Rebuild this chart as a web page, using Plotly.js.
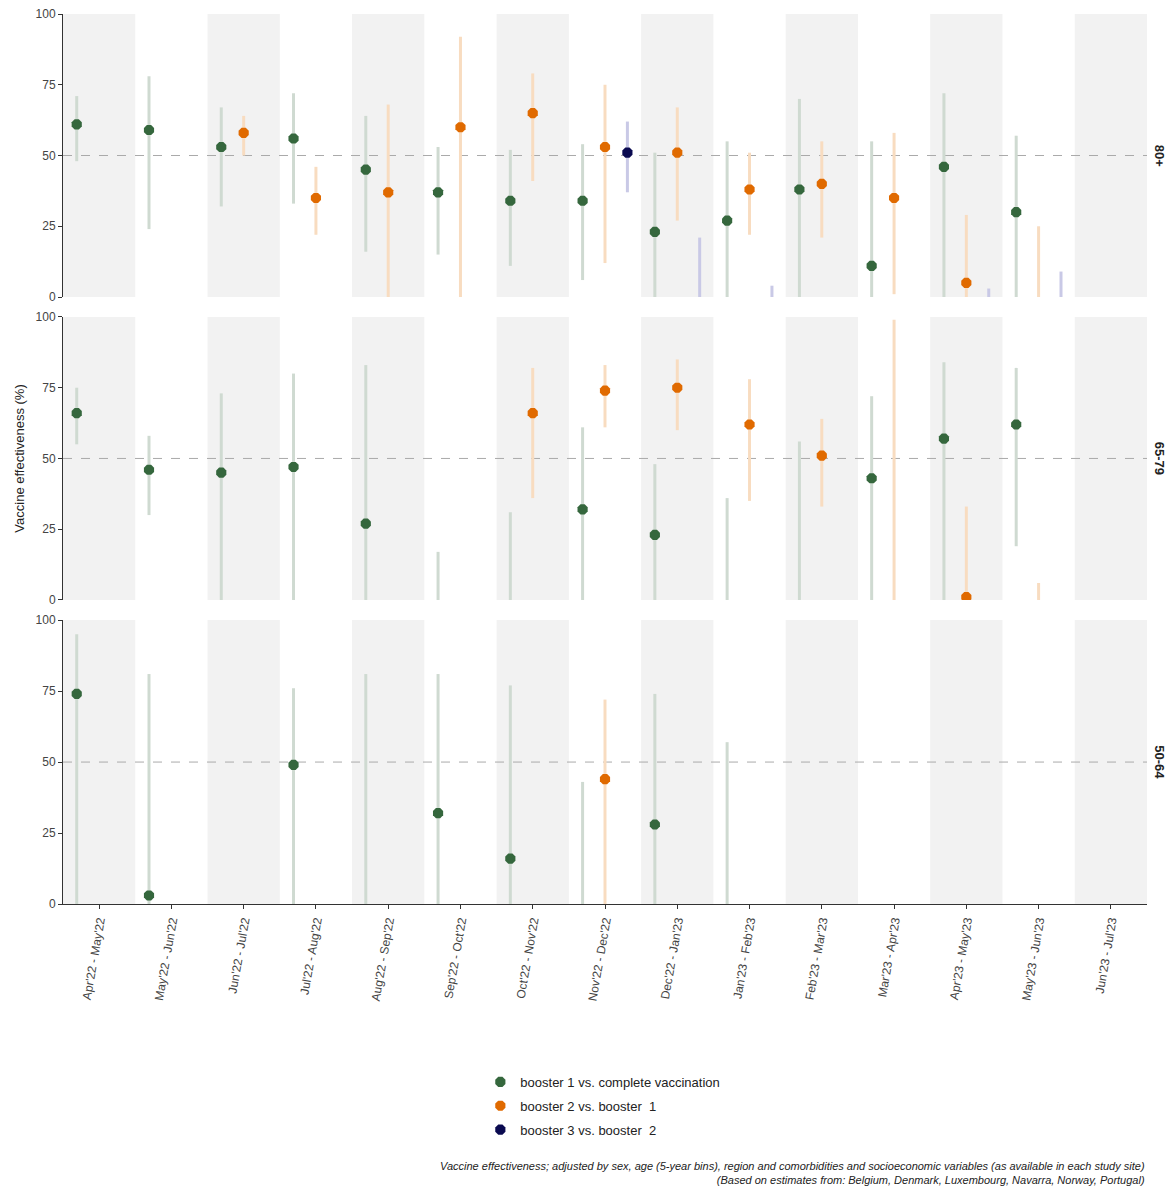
<!DOCTYPE html>
<html>
<head>
<meta charset="utf-8">
<script src="https://cdn.plot.ly/plotly-3.0.1.min.js"></script>
<style>body{margin:0;background:#fff}#chart{width:1176px;height:1190px}</style>
</head>
<body>
<div id="chart"></div>
<script>
// periodos (categorias do eixo x)
const periods = ["Apr'22 - May'22","May'22 - Jun'22","Jun'22 - Jul'22","Jul'22 - Aug'22","Aug'22 - Sep'22",
  "Sep'22 - Oct'22","Oct'22 - Nov'22","Nov'22 - Dec'22","Dec'22 - Jan'23","Jan'23 - Feb'23",
  "Feb'23 - Mar'23","Mar'23 - Apr'23","Apr'23 - May'23","May'23 - Jun'23","Jun'23 - Jul'23"];
const N = null;

// 80+
const ve80_b1 = [61,59,53,56,45,37,34,34,23,27,38,11,46,30,N];
const lo80_b1 = [48,24,32,33,16,15,11,6,0,0,0,0,0,0,N];
const hi80_b1 = [71,78,67,72,64,53,52,54,51,55,70,55,72,57,N];
const ve80_b2 = [N,N,58,35,37,60,65,53,51,38,40,35,5,N,N];
const lo80_b2 = [N,N,50,22,0,0,41,12,27,22,21,1,0,0,N];
const hi80_b2 = [N,N,64,46,68,92,79,75,67,51,55,58,29,25,N];
const ve80_b3 = [N,N,N,N,N,N,N,51,N,N,N,N,N,N,N];
const lo80_b3 = [N,N,N,N,N,N,N,37,0,0,N,N,0,0,N];
const hi80_b3 = [N,N,N,N,N,N,N,62,21,4,N,N,3,9,N];

// 65-79
const ve65_b1 = [66,46,45,47,27,N,N,32,23,N,N,43,57,62,N];
const lo65_b1 = [55,30,0,0,0,0,0,0,0,0,0,0,0,19,N];
const hi65_b1 = [75,58,73,80,83,17,31,61,48,36,56,72,84,82,N];
const ve65_b2 = [N,N,N,N,N,N,66,74,75,62,51,N,1,N,N];
const lo65_b2 = [N,N,N,N,N,N,36,61,60,35,33,0,0,0,N];
const hi65_b2 = [N,N,N,N,N,N,82,83,85,78,64,99,33,6,N];

// 50-64
const ve50_b1 = [74,3,N,49,N,32,16,N,28,N,N,N,N,N,N];
const lo50_b1 = [0,0,N,0,0,0,0,0,0,0,N,N,N,N,N];
const hi50_b1 = [95,81,N,76,81,81,77,43,74,57,N,N,N,N,N];
const ve50_b2 = [N,N,N,N,N,N,N,44,N,N,N,N,N,N,N];
const lo50_b2 = [N,N,N,N,N,N,N,0,N,N,N,N,N,N,N];
const hi50_b2 = [N,N,N,N,N,N,N,72,N,N,N,N,N,N,N];

const series = [
  {name: "booster 1 vs. complete vaccination", off: -0.31, dark: "#35673d", light: "#cfdad1"},
  {name: "booster 2 vs. booster  1", off: 0, dark: "#e06a00", light: "#f8dcc0"},
  {name: "booster 3 vs. booster  2", off: 0.31, dark: "#0a0a50", light: "#c9c9e6"},
];

const panels = [
  {y: "y", label: "80+", data: [[ve80_b1, lo80_b1, hi80_b1], [ve80_b2, lo80_b2, hi80_b2], [ve80_b3, lo80_b3, hi80_b3]]},
  {y: "y2", label: "65-79", data: [[ve65_b1, lo65_b1, hi65_b1], [ve65_b2, lo65_b2, hi65_b2]]},
  {y: "y3", label: "50-64", data: [[ve50_b1, lo50_b1, hi50_b1], [ve50_b2, lo50_b2, hi50_b2]]},
];

const traces = [];
panels.forEach((p, pi) => {
  p.data.forEach(([ve, lo, hi], si) => {
    const s = series[si];
    const xs = [], ys = [];
    lo.forEach((l, i) => {
      if (l === null) return;
      xs.push(i + s.off, i + s.off, null);
      ys.push(l, hi[i], null);
    });
    traces.push({x: xs, y: ys, yaxis: p.y, mode: "lines", line: {color: s.light, width: 3},
      showlegend: false, hoverinfo: "skip"});
  });
});
// pontos por cima das barras
panels.forEach((p, pi) => {
  p.data.forEach(([ve], si) => {
    const s = series[si];
    traces.push({x: ve.map((_, i) => i + s.off), y: ve, yaxis: p.y, mode: "markers",
      name: s.name, legendgroup: s.name, showlegend: pi === 0,
      marker: {color: s.dark, size: 11, symbol: "octagon"}});
  });
});

const shapes = [];
const annotations = [];
panels.forEach((p) => {
  for (let i = 0; i < periods.length; i += 2) {
    shapes.push({type: "rect", xref: "x", yref: p.y + " domain", x0: i - 0.5, x1: i + 0.5, y0: 0, y1: 1,
      fillcolor: "#f2f2f2", line: {width: 0}, layer: "below"});
  }
  shapes.push({type: "line", xref: "paper", yref: p.y, x0: 0, x1: 1, y0: 50, y1: 50,
    line: {color: "#aaaaaa", width: 1, dash: "dash"}, layer: "below"});
  annotations.push({text: "<b>" + p.label + "</b>", xref: "paper", yref: p.y + " domain", x: 1.003, y: 0.5,
    xanchor: "left", yanchor: "middle", textangle: 90, showarrow: false, font: {size: 13, color: "#222"}});
});
annotations.push({xref: "paper", yref: "paper", x: 1.0, y: -0.285, xanchor: "right", yanchor: "top", showarrow: false,
  align: "right", font: {size: 11, color: "#222"},
  text: "<i>Vaccine effectiveness; adjusted by sex, age (5-year bins), region and comorbidities and socioeconomic variables (as available in each study site)</i><br><i>(Based on estimates from: Belgium, Denmark, Luxembourg, Navarra, Norway, Portugal)</i>"});

const yax = (dom) => ({domain: dom, range: [0, 100], tickvals: [0, 25, 50, 75, 100], showgrid: false, zeroline: false,
  showline: true, linecolor: "#333", ticks: "outside", ticklen: 4, tickcolor: "#333", tickfont: {size: 12, color: "#444"}});

const layout = {
  width: 1176, height: 1190,
  margin: {l: 63, r: 29, t: 14, b: 286},
  paper_bgcolor: "#fff", plot_bgcolor: "#fff",
  font: {family: "Arial, Liberation Sans, sans-serif"},
  xaxis: {anchor: "y3", range: [-0.5, 14.5], tickvals: periods.map((_, i) => i), ticktext: periods, tickangle: -80,
    showgrid: false, zeroline: false, showline: true, linecolor: "#333", ticks: "outside", ticklen: 4, tickcolor: "#333",
    tickfont: {size: 12, color: "#444"}},
  yaxis: yax([0.682, 1]),
  yaxis2: Object.assign(yax([0.3416, 0.6596]), {title: {text: "Vaccine effectiveness (%)", font: {size: 13, color: "#222"}, standoff: 8}}),
  yaxis3: yax([0, 0.319]),
  showlegend: true,
  legend: {x: 0.385, y: -0.183, xanchor: "left", yanchor: "top", font: {size: 13, color: "#222"}, tracegroupgap: 4},
  shapes: shapes, annotations: annotations,
};

Plotly.newPlot("chart", traces, layout, {displayModeBar: false});
</script>
</body>
</html>
